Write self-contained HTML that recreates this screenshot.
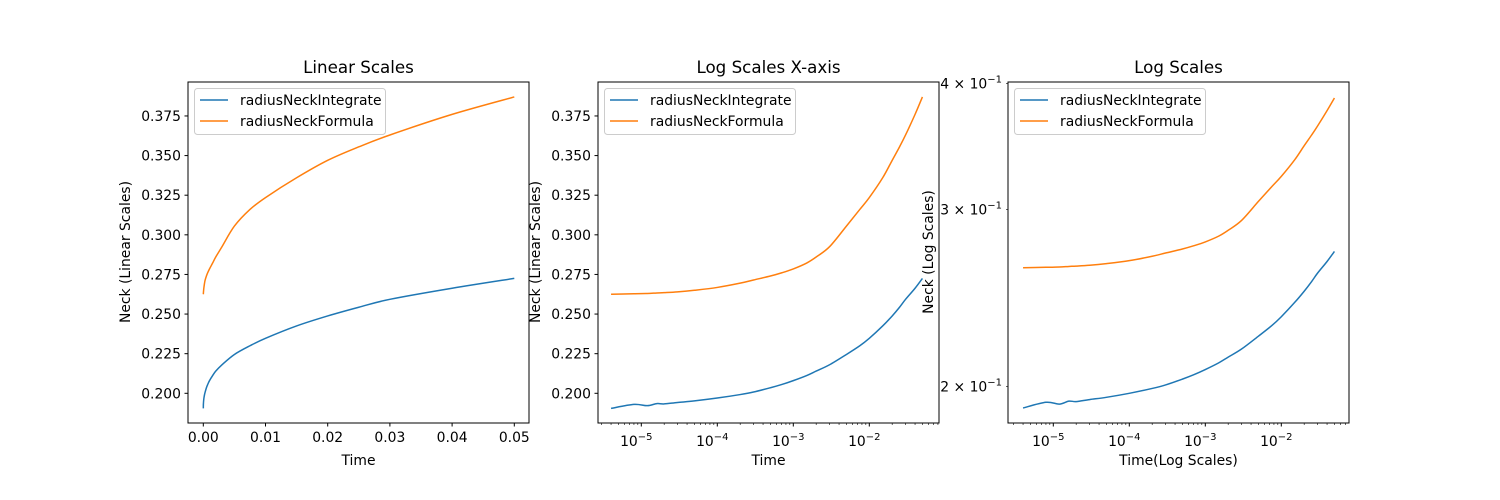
<!DOCTYPE html>
<html><head><meta charset="utf-8"><style>
body{margin:0;background:#fff}
svg{display:block;font-family:"DejaVu Sans","Liberation Sans",sans-serif}
</style></head><body>
<svg id="c" width="1500" height="500" viewBox="0 0 1500 500" xmlns="http://www.w3.org/2000/svg"></svg>
<script>
const times = [0.000004,0.000008,0.000012,0.000016,0.00002,0.00003,0.00005,0.0001,0.0002,0.0003,0.0005,0.0007,0.001,0.0015,0.002,0.003,0.005,0.0075,0.01,0.015,0.02,0.025,0.03,0.04,0.05];
const integrateVals = [0.1905,0.1930,0.1922,0.1935,0.1933,0.1942,0.1952,0.1970,0.1992,0.2008,0.2035,0.2055,0.2080,0.2112,0.2140,0.2180,0.2245,0.2300,0.2347,0.2425,0.2488,0.2543,0.2593,0.2663,0.2725];
const formulaVals = [0.2625,0.2628,0.2630,0.2633,0.2635,0.2640,0.2650,0.2668,0.2695,0.2715,0.2740,0.2760,0.2785,0.2822,0.2860,0.2925,0.3055,0.3160,0.3235,0.3360,0.3470,0.3555,0.3630,0.3760,0.3870];
const linXTicks = [0,0.01,0.02,0.03,0.04,0.05];
const linXLabels = ["0.00","0.01","0.02","0.03","0.04","0.05"];
const linYTicks = [0.2,0.225,0.25,0.275,0.3,0.325,0.35,0.375];
const linYLabels = ["0.200","0.225","0.250","0.275","0.300","0.325","0.350","0.375"];
const logXDecades = [-5,-4,-3,-2];
const logYTicks = [0.2,0.3,0.4];
const logYMant = ["2","3","4"];
const seriesNames = ["radiusNeckIntegrate","radiusNeckFormula"];
const colors = ["#1f77b4","#ff7f0e"];

const NS="http://www.w3.org/2000/svg";
const svg=document.getElementById('c');
function mk(tag,attrs,parent,name){const e=document.createElementNS(NS,tag);for(const k in attrs)e.setAttribute(k,attrs[k]);


(parent||svg).appendChild(e);return e;}
const TOP=82,BOT=423;
const linY=v=>393.3-(v-0.2)*1584.8;
const logY=v=>386.7-(Math.log10(v)-Math.log10(0.2))*1007;
function smoothPath(P){
  let d='M'+P[0][0].toFixed(2)+','+P[0][1].toFixed(2);
  for(let k=0;k<P.length-1;k++){
    const p0=P[Math.max(0,k-1)],p1=P[k],p2=P[k+1],p3=P[Math.min(P.length-1,k+2)];
    const c1=[p1[0]+(p2[0]-p0[0])/6,p1[1]+(p2[1]-p0[1])/6];
    const c2=[p2[0]-(p3[0]-p1[0])/6,p2[1]-(p3[1]-p1[1])/6];
    d+='C'+c1.map(v=>v.toFixed(2)).join(',')+' '+c2.map(v=>v.toFixed(2)).join(',')+' '+p2[0].toFixed(2)+','+p2[1].toFixed(2);
  }
  return d;
}
function panel(i,left,title,xlog,ylog,xlabel,ylabel){
  const g=mk('g',{},svg,'panel-'+(i+1));
  const W=341;
  const fx = xlog ? (t=>left+45.3+(Math.log10(t)+5)*76+ (i==1?-2:0)) : (t=>left+15.3+t*6220);
  const fy = ylog ? logY : linY;
  mk('rect',{x:left,y:TOP,width:W,height:BOT-TOP,fill:'#fff'},g,'plot-area');
  [integrateVals,formulaVals].forEach((vals,s)=>{
    const P=times.map((t,k)=>[fx(t),fy(vals[k])]);
    mk('path',{d:smoothPath(P),fill:'none',stroke:colors[s],'stroke-width':1.5,'stroke-linejoin':'round'},g,'line-'+seriesNames[s]);
  });
  mk('rect',{x:left,y:TOP,width:W,height:BOT-TOP,fill:'none',stroke:'#000','stroke-width':1},g,'axes-frame');
  if(!xlog){
    linXTicks.forEach((t,k)=>{const x=fx(t);
      mk('line',{x1:x,y1:BOT,x2:x,y2:BOT+3.5,stroke:'#000'},g,'x-tick');
      const tx=mk('text',{x:x,y:BOT+19,'font-size':13.9,'text-anchor':'middle'},g,'x-tick-label');tx.textContent=linXLabels[k];});
  } else {
    for(let dcd=-6;dcd<=-1;dcd++){for(let m=1;m<=9;m++){const t=m*Math.pow(10,dcd);const x=fx(t);
      if(x<left||x>left+W)continue;
      mk('line',{x1:x,y1:BOT,x2:x,y2:BOT+(m==1?3.5:2),stroke:'#000','stroke-width':m==1?1:0.6},g,'x-tick');}}
    logXDecades.forEach(dd=>{const x=fx(Math.pow(10,dd));
      const tx=mk('text',{x:x-5,y:BOT+23,'font-size':13.9,'text-anchor':'middle'},g,'x-tick-label');
      tx.textContent='10';const sp=document.createElementNS(NS,'tspan');sp.setAttribute('dy','-6');sp.setAttribute('font-size','10');sp.textContent='\u2212'+(-dd);tx.appendChild(sp);});
  }
  if(!ylog){
    linYTicks.forEach((v,k)=>{const y=fy(v);
      mk('line',{x1:left-3.5,y1:y,x2:left,y2:y,stroke:'#000'},g,'y-tick');
      const tx=mk('text',{x:left-7,y:y+5,'font-size':13.9,'text-anchor':'end'},g,'y-tick-label');tx.textContent=linYLabels[k];});
  } else {
    logYTicks.forEach((v,k)=>{const y=fy(v);
      mk('line',{x1:left-2,y1:y,x2:left,y2:y,stroke:'#000','stroke-width':0.6},g,'y-tick');
      const tx=mk('text',{x:left-6,y:y+5,'font-size':13.9,'text-anchor':'end'},g,'y-tick-label');
      tx.textContent=logYMant[k]+' \u00d7 10';const sp=document.createElementNS(NS,'tspan');sp.setAttribute('dy','-6');sp.setAttribute('font-size','10');sp.textContent='\u22121';tx.appendChild(sp);});
  }
  const tt=mk('text',{x:left+W/2,y:TOP-9,'font-size':16.7,'text-anchor':'middle'},g,'chart-title');tt.textContent=title;
  const xl=mk('text',{x:left+W/2,y:BOT+42,'font-size':13.9,'text-anchor':'middle'},g,'x-axis-title');xl.textContent=xlabel;
  const yx = ylog ? left-75 : left-58;
  const yl=mk('text',{x:yx,y:252,'font-size':13.9,'text-anchor':'middle',transform:'rotate(-90 '+yx+' 252)'},g,'y-axis-title');yl.textContent=ylabel;
  const lg=mk('g',{},g,'legend');
  mk('rect',{x:left+6.5,y:88.5,width:191,height:46,rx:3,fill:'#fff','fill-opacity':0.8,stroke:'#ccc'},lg,'legend-box');
  seriesNames.forEach((n,s)=>{const y=100+s*21;
    mk('line',{x1:left+12,y1:y,x2:left+40,y2:y,stroke:colors[s],'stroke-width':1.5},lg,'legend-swatch');
    const t=mk('text',{x:left+52,y:y+5,'font-size':13.9},lg,'legend-entry');t.textContent=n;});
}
panel(0,188,'Linear Scales',false,false,'Time','Neck (Linear Scales)');
panel(1,598,'Log Scales X-axis',true,false,'Time','Neck (Linear Scales)');
panel(2,1008,'Log Scales',true,true,'Time(Log Scales)','Neck (Log Scales)');
</script>
</body></html>
